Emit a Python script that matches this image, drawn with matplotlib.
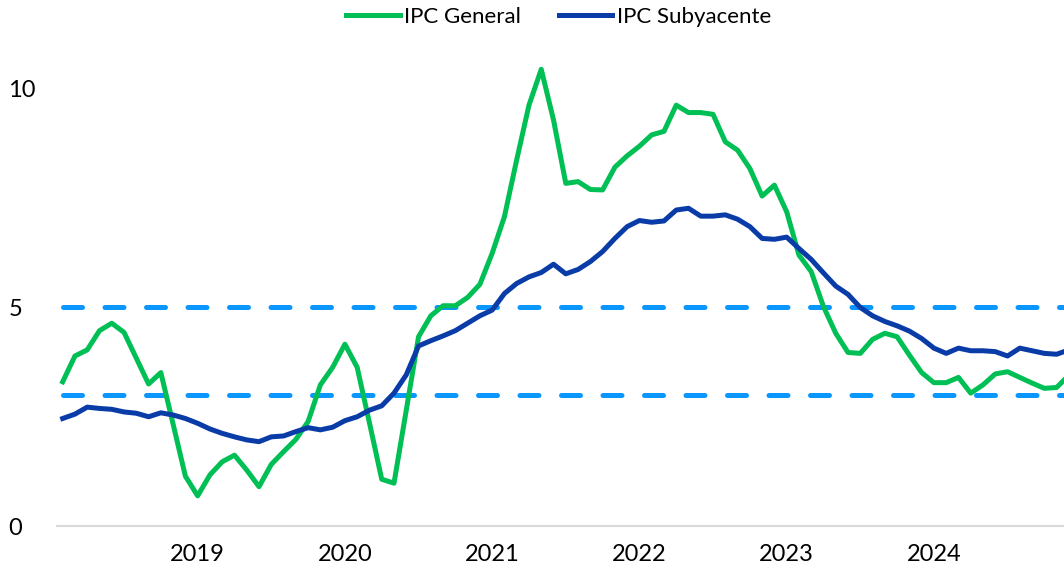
import matplotlib
matplotlib.use("Agg")
import matplotlib.pyplot as plt
import numpy as np
import pandas as pd

# monthly data, Feb 2018 - Dec 2024
months = pd.date_range("2018-02-01", "2024-12-01", freq="MS")

ipc_general = [3.30, 3.89, 4.03, 4.47, 4.64, 4.43, 3.84, 3.25, 3.51, 2.33,
               1.14, 0.69, 1.17, 1.47, 1.62, 1.28, 0.90, 1.41, 1.70, 1.98,
               2.39, 3.23, 3.63, 4.16, 3.63, 2.36, 1.07, 0.98, 2.65, 4.33,
               4.81, 5.04, 5.04, 5.23, 5.53, 6.24, 7.08, 8.38, 9.63, 10.45,
               9.29, 7.84, 7.88, 7.70, 7.69, 8.21, 8.47, 8.69, 8.95, 9.03,
               9.63, 9.46, 9.46, 9.42, 8.79, 8.60, 8.18, 7.55, 7.80, 7.19,
               6.20, 5.82, 5.02, 4.41, 3.97, 3.95, 4.27, 4.41, 4.33, 3.91,
               3.51, 3.28, 3.28, 3.40, 3.04, 3.23, 3.48, 3.53, 3.40, 3.27,
               3.15, 3.17, 3.45]

ipc_subyacente = [2.46, 2.56, 2.72, 2.69, 2.67, 2.61, 2.58, 2.50, 2.59, 2.54,
                  2.46, 2.35, 2.22, 2.12, 2.04, 1.97, 1.93, 2.04, 2.06, 2.16,
                  2.25, 2.20, 2.26, 2.41, 2.50, 2.65, 2.75, 3.04, 3.46, 4.12,
                  4.24, 4.35, 4.47, 4.64, 4.81, 4.94, 5.32, 5.55, 5.70, 5.80,
                  5.99, 5.77, 5.87, 6.05, 6.28, 6.58, 6.85, 6.99, 6.95, 6.98,
                  7.23, 7.27, 7.09, 7.09, 7.12, 7.02, 6.85, 6.58, 6.56, 6.61,
                  6.35, 6.10, 5.79, 5.49, 5.30, 5.00, 4.81, 4.68, 4.58, 4.46,
                  4.29, 4.07, 3.95, 4.07, 4.01, 4.01, 3.99, 3.89, 4.07, 4.01,
                  3.95, 3.93, 4.03]

rango_meta = [3, 5]
y_ticks = [0, 5, 10]

x = np.arange(len(months))
year_pos = [i for i, m in enumerate(months) if m.month == 1]
year_lab = [str(months[i].year) for i in year_pos]

plt.rcParams['font.family'] = ['Lato', 'DejaVu Sans']

fig = plt.figure(figsize=(10.64, 5.67), dpi=100)
ax = fig.add_axes([0.0536, 0.0723, 0.9464, 0.8864])

for v in rango_meta:
    ax.plot([x[0], x[-1]], [v, v], color='#0A96FF', lw=3.6,
            dashes=(3.8, 4.5), dash_capstyle='round', zorder=1)

ax.plot(x, ipc_general, color='#00BF55', lw=3.6, label='IPC General',
        solid_joinstyle='round', zorder=3)
ax.plot(x, ipc_subyacente, color='#0A3CA8', lw=3.6, label='IPC Subyacente',
        solid_joinstyle='round', zorder=3)

ax.set_xlim(-0.46, 81.6)
ax.set_ylim(0, 11.5)

for s in ['top', 'right', 'left']:
    ax.spines[s].set_visible(False)
ax.spines['bottom'].set_color('#D9D9D9')
ax.spines['bottom'].set_linewidth(1.5)

ax.set_xticks(year_pos)
ax.set_xticklabels(year_lab)
ax.set_yticks(y_ticks)
ax.tick_params(axis='both', length=0, labelsize=17, colors='#000000')
ax.tick_params(axis='x', pad=13)
ax.tick_params(axis='y', pad=35)
for lab in ax.get_yticklabels():
    lab.set_horizontalalignment('left')

fig.legend(loc='center', bbox_to_anchor=(0.525, 0.97), ncol=2, frameon=False,
           fontsize=16, handlelength=2.4, handletextpad=0.2, columnspacing=1.7)

fig.savefig('out.png', dpi=100)
